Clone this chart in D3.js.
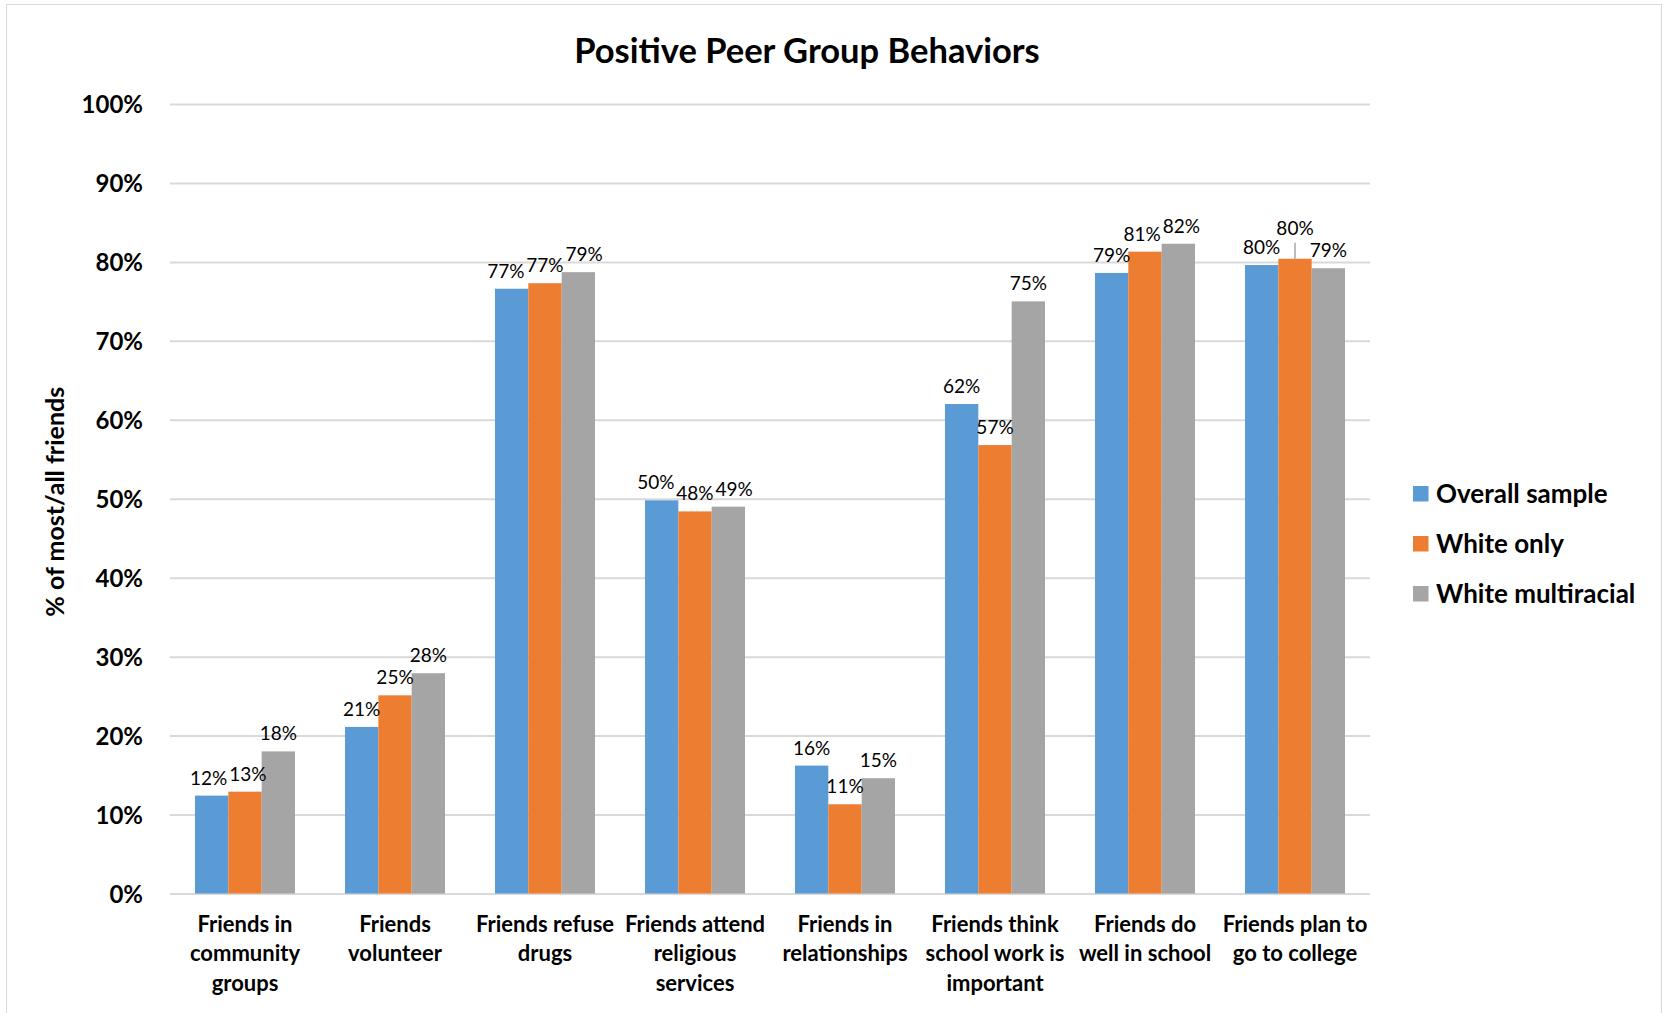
<!DOCTYPE html>
<html>
<head>
<meta charset="utf-8">
<script src="https://cdn.jsdelivr.net/npm/d3@7"></script>
<style>
  html, body { margin: 0; padding: 0; background: #ffffff; }
  svg { display: block; font-family: Lato, "Open Sans", sans-serif; }
</style>
</head>
<body>
<svg id="chart" width="1663" height="1013"></svg>
<script>
// Chart content
const chartTitle = "Positive Peer Group Behaviors";
const yAxisTitle = "% of most/all friends";

const categories = [
  "Friends in\ncommunity\ngroups",
  "Friends\nvolunteer",
  "Friends refuse\ndrugs",
  "Friends attend\nreligious\nservices",
  "Friends in\nrelationships",
  "Friends think\nschool work is\nimportant",
  "Friends do\nwell in school",
  "Friends plan to\ngo to college"
];

const seriesNames = ["Overall sample", "White only", "White multiracial"];

// Share of respondents (fraction) for each category
const overallSample    = [0.124, 0.211, 0.766, 0.498, 0.162, 0.620, 0.786, 0.796];
const whiteOnly        = [0.129, 0.251, 0.773, 0.484, 0.113, 0.568, 0.813, 0.804];
const whiteMultiracial = [0.180, 0.279, 0.787, 0.490, 0.146, 0.750, 0.823, 0.792];

const yTicks = [0, 0.1, 0.2, 0.3, 0.4, 0.5, 0.6, 0.7, 0.8, 0.9, 1.0];

// Label drawn with a leader line to its bar
const leaderLabels = [{ category: 7, series: 1 }];

const seriesValues = [overallSample, whiteOnly, whiteMultiracial];
const colors = ["#5b9bd5", "#ed7d31", "#a5a5a5"];

const svg = d3.select("#chart");
const W = 1663, H = 1013;
const plot = { left: 170, right: 1370, top: 104, bottom: 893.5 };

// Outer chart border
svg.append("rect")
  .attr("x", 6.5).attr("y", 4.5)
  .attr("width", W - 8).attr("height", H + 10)
  .attr("fill", "#ffffff")
  .attr("stroke", "#d9d9d9").attr("stroke-width", 1);

const x0 = d3.scaleBand()
  .domain(d3.range(categories.length))
  .range([plot.left, plot.right])
  .paddingInner(0).paddingOuter(0);

const x1 = d3.scaleBand()
  .domain(d3.range(seriesNames.length))
  .range([0, x0.bandwidth()])
  .paddingInner(0).paddingOuter(0.75);

const y = d3.scaleLinear().domain([0, 1]).range([plot.bottom, plot.top]);

// Y axis with horizontal gridlines
const yAxis = d3.axisLeft(y)
  .tickValues(yTicks)
  .tickFormat(d3.format(".0%"))
  .tickSizeInner(-(plot.right - plot.left))
  .tickSizeOuter(0)
  .tickPadding(27);

const gy = svg.append("g")
  .attr("transform", `translate(${plot.left},0)`)
  .call(yAxis);
gy.select(".domain").remove();
gy.selectAll(".tick line")
  .attr("stroke", "#d9d9d9")
  .attr("stroke-width", 2);
gy.selectAll(".tick text")
  .attr("fill", "#000")
  .style("font-family", "Lato, sans-serif")
  .style("font-weight", "bold")
  .style("font-size", "24px")
  .attr("dy", "0.36em");

// Bars
const groups = svg.append("g").selectAll("g")
  .data(categories.map((c, i) => i))
  .join("g")
  .attr("transform", i => `translate(${x0(i)},0)`);

groups.selectAll("rect")
  .data(i => seriesValues.map((vals, s) => ({ i, s, v: vals[i] })))
  .join("rect")
  .attr("x", d => x1(d.s))
  .attr("y", d => y(d.v))
  .attr("width", x1.bandwidth())
  .attr("height", d => y(0) - y(d.v))
  .attr("fill", d => colors[d.s]);

// Value labels above bars
const fmt = d3.format(".0%");
const isLeader = d => leaderLabels.some(l => l.category === d.i && l.series === d.s);

groups.selectAll("line.leader")
  .data(i => seriesValues.map((vals, s) => ({ i, s, v: vals[i] })).filter(isLeader))
  .join("line")
  .attr("class", "leader")
  .attr("x1", d => x1(d.s) + x1.bandwidth() / 2)
  .attr("x2", d => x1(d.s) + x1.bandwidth() / 2)
  .attr("y1", d => y(d.v))
  .attr("y2", d => y(d.v) - 16)
  .attr("stroke", "#a6a6a6")
  .attr("stroke-width", 1.5);

const valueLabels = groups.selectAll("text.value")
  .data(i => seriesValues.map((vals, s) => ({ i, s, v: vals[i] })))
  .join("text")
  .attr("class", "value")
  .attr("x", d => x1(d.s) + x1.bandwidth() / 2)
  .attr("y", d => y(d.v) - (isLeader(d) ? 24 : 11))
  .attr("text-anchor", "middle")
  .style("font-size", "19px")
  .style("font-weight", "normal")
  .attr("fill", "#000")
  .text(d => fmt(d.v));

// Spread neighbouring labels sideways when they sit at similar heights
groups.each(function () {
  const items = d3.select(this).selectAll("text.value").nodes().map(n => ({
    node: n,
    x: +n.getAttribute("x"),
    y: +n.getAttribute("y"),
    w: n.getComputedTextLength()
  }));
  for (let pass = 0; pass < 3; pass++) {
    for (let k = 0; k < items.length - 1; k++) {
      const a = items[k], b = items[k + 1];
      if (Math.abs(a.y - b.y) >= 15) continue;
      const overlap = (a.x + a.w / 2) - (b.x - b.w / 2) + 2;
      if (overlap > 0) {
        a.x -= overlap / 2;
        b.x += overlap / 2;
      }
    }
  }
  items.forEach(it => it.node.setAttribute("x", it.x));
});

// Category labels (multi-line)
const xLabels = svg.append("g").selectAll("text")
  .data(categories.map((c, i) => ({ c, i })))
  .join("text")
  .attr("text-anchor", "middle")
  .style("font-size", "22px")
  .style("font-weight", "bold")
  .attr("fill", "#000")
  .attr("transform", d => `translate(${x0(d.i) + x0.bandwidth() / 2},${plot.bottom + 38})`);

xLabels.selectAll("tspan")
  .data(d => d.c.split("\n"))
  .join("tspan")
  .attr("x", 0)
  .attr("y", (t, k) => k * 29.5)
  .text(t => t);

// Axis title
svg.append("text")
  .attr("transform", `translate(64,${(plot.top + plot.bottom) / 2 + 3}) rotate(-90)`)
  .attr("text-anchor", "middle")
  .style("font-size", "25px")
  .style("font-weight", "bold")
  .attr("fill", "#000")
  .text(yAxisTitle);

// Chart title
svg.append("text")
  .attr("x", 807)
  .attr("y", 63)
  .attr("text-anchor", "middle")
  .style("font-size", "34.5px")
  .style("font-weight", "bold")
  .attr("fill", "#000")
  .text(chartTitle);

// Legend
const legend = svg.append("g").attr("transform", "translate(1413,486)");
const li = legend.selectAll("g")
  .data(seriesNames.map((n, s) => ({ n, s })))
  .join("g")
  .attr("transform", d => `translate(0,${d.s * 50})`);
li.append("rect")
  .attr("width", 15.5).attr("height", 15.5)
  .attr("fill", d => colors[d.s]);
li.append("text")
  .attr("x", 23)
  .attr("y", 8)
  .attr("dy", "0.36em")
  .style("font-size", "26px")
  .style("font-weight", "bold")
  .attr("fill", "#000")
  .text(d => d.n);
</script>
</body>
</html>
